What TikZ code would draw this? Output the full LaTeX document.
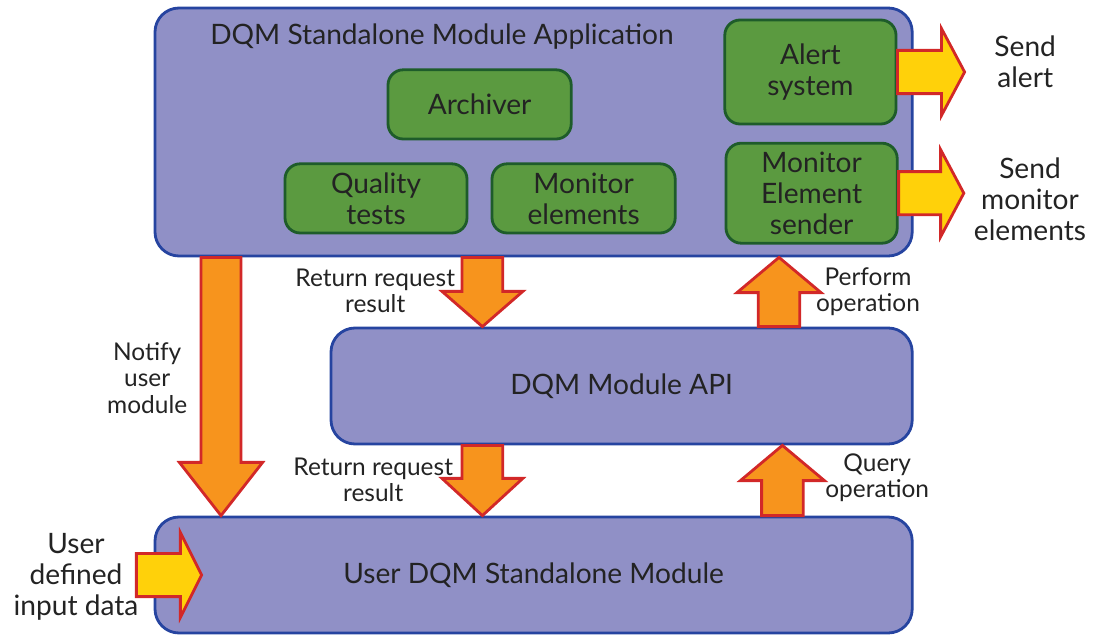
\documentclass[tikz,border=0pt]{standalone}
\usepackage{fontspec}
\setmainfont{Lato}
\usepackage{tikz}
\usepackage{xcolor}
\usetikzlibrary{calc}

\definecolor{boxfill}{RGB}{144,144,198}
\definecolor{boxline}{RGB}{38,68,160}
\definecolor{greenfill}{RGB}{91,154,64}
\definecolor{greenline}{RGB}{30,92,42}
\definecolor{sendyellow}{RGB}{255,209,10}
\definecolor{flowfill}{RGB}{247,148,29}
\definecolor{flowline}{RGB}{210,40,40}
\definecolor{txt}{RGB}{35,35,35}

% start, tip, half body width, half head width, head length
\newcommand{\fatarrow}[6][]{%
    \coordinate (fa-s) at (#2);
    \coordinate (fa-t) at (#3);
    \coordinate (fa-h) at ($(fa-t)!#6!(fa-s)$);
    \draw[fat, #1] ($(fa-s)!#4!90:(fa-t)$) -- ($(fa-h)!#4!90:(fa-t)$)
        -- ($(fa-h)!#5!90:(fa-t)$) -- (fa-t) -- ($(fa-h)!#5!-90:(fa-t)$)
        -- ($(fa-h)!#4!-90:(fa-t)$) -- ($(fa-s)!#4!-90:(fa-t)$) -- cycle;
}

\begin{document}
\begin{tikzpicture}[
    big/.style={rectangle, draw=boxline, fill=boxfill, line width=2pt,
                rounded corners=0.6cm, text=txt,
                font=\fontsize{20}{22}\selectfont},
    part/.style={rectangle, draw=greenline, fill=greenfill, line width=2pt,
                 rounded corners=0.38cm, align=center, text=txt,
                 font=\fontsize{20}{22}\selectfont},
    lbl/.style={align=center, text=txt, font=\fontsize{17.4}{18.6}\selectfont},
    outlbl/.style={align=center, text=txt, font=\fontsize{20}{22}\selectfont},
    fat/.style={draw=flowline, fill=flowfill, line width=2pt, line join=miter}
]
    \useasboundingbox (0,0) rectangle (27.4,-15.875);

    \node[big, minimum width=18.93cm, minimum height=6.2cm] (app) at (13.34,-3.3) {};
    \node[big, minimum width=14.53cm, minimum height=2.9cm] (api) at (15.54,-9.65) {DQM Module API};
    \node[big, minimum width=18.93cm, minimum height=2.9cm] (user) at (13.34,-14.375) {User DQM Standalone Module};

    \node[text=txt, font=\fontsize{20}{22}\selectfont] (title) at (11.05,-0.92) {DQM Standalone Module Application};

    \node[part, minimum width=4.58cm, minimum height=1.73cm] (archiver) at (11.99,-2.61) {Archiver};
    \node[part, minimum width=4.55cm, minimum height=1.73cm] (qtests)   at (9.4,-4.96) {Quality\\tests};
    \node[part, minimum width=4.58cm, minimum height=1.73cm] (melems)   at (14.59,-4.96) {Monitor\\elements};
    \node[part, minimum width=4.28cm, minimum height=2.6cm]  (alert)    at (20.26,-1.8) {Alert\\system};
    \node[part, minimum width=4.28cm, minimum height=2.5cm]  (sender)   at (20.29,-4.83) {Monitor\\Element\\sender};

    \coordinate (notifyx) at (5.525,0);
    \coordinate (returnx) at (12.06,0);
    \coordinate (performx) at (19.475,0);
    \coordinate (queryx) at (19.56,0);
    \coordinate (alertout) at ($(alert.east)+(1.68,0)$);
    \coordinate (senderout) at ($(sender.east)+(1.63,0)$);
    \coordinate (inputin) at ($(user.west)+(-0.43,0)$);
    \coordinate (inputtip) at ($(user.west)+(1.2,0)$);

    \fatarrow[fill=sendyellow]{alert.east}{alertout}{0.54cm}{1.09cm}{0.58cm}
    \fatarrow[fill=sendyellow]{sender.east}{senderout}{0.54cm}{1.09cm}{0.58cm}
    \fatarrow{app.south -| notifyx}{user.north -| notifyx}{0.5cm}{1.04cm}{1.33cm}
    \fatarrow{app.south -| returnx}{api.north -| returnx}{0.51cm}{1.01cm}{0.88cm}
    \fatarrow{api.south -| returnx}{user.north -| returnx}{0.51cm}{1.01cm}{0.93cm}
    \fatarrow{api.north -| performx}{app.south -| performx}{0.52cm}{1.05cm}{0.88cm}
    \fatarrow{user.north -| queryx}{api.south -| queryx}{0.52cm}{1.05cm}{0.88cm}
    \fatarrow[fill=sendyellow]{inputin}{inputtip}{0.54cm}{1.06cm}{0.53cm}

    \node[outlbl] (alertlbl)  at (25.63,-1.55) {Send\\alert};
    \node[outlbl] (senderlbl) at (25.75,-4.98) {Send\\monitor\\elements};
    \node[outlbl] (inputlbl)  at (1.9,-14.43) {User\\defined\\input data};

    \node[lbl] (ret1lbl)    at (9.38,-7.28) {Return request\\result};
    \node[lbl] (performlbl) at (21.7,-7.3) {Perform\\operation};
    \node[lbl] (notifylbl)  at (3.68,-9.45) {Notify\\user\\module};
    \node[lbl] (ret2lbl)    at (9.33,-12.0) {Return request\\result};
    \node[lbl] (querylbl)   at (21.93,-11.95) {Query\\operation};
\end{tikzpicture}
\end{document}
